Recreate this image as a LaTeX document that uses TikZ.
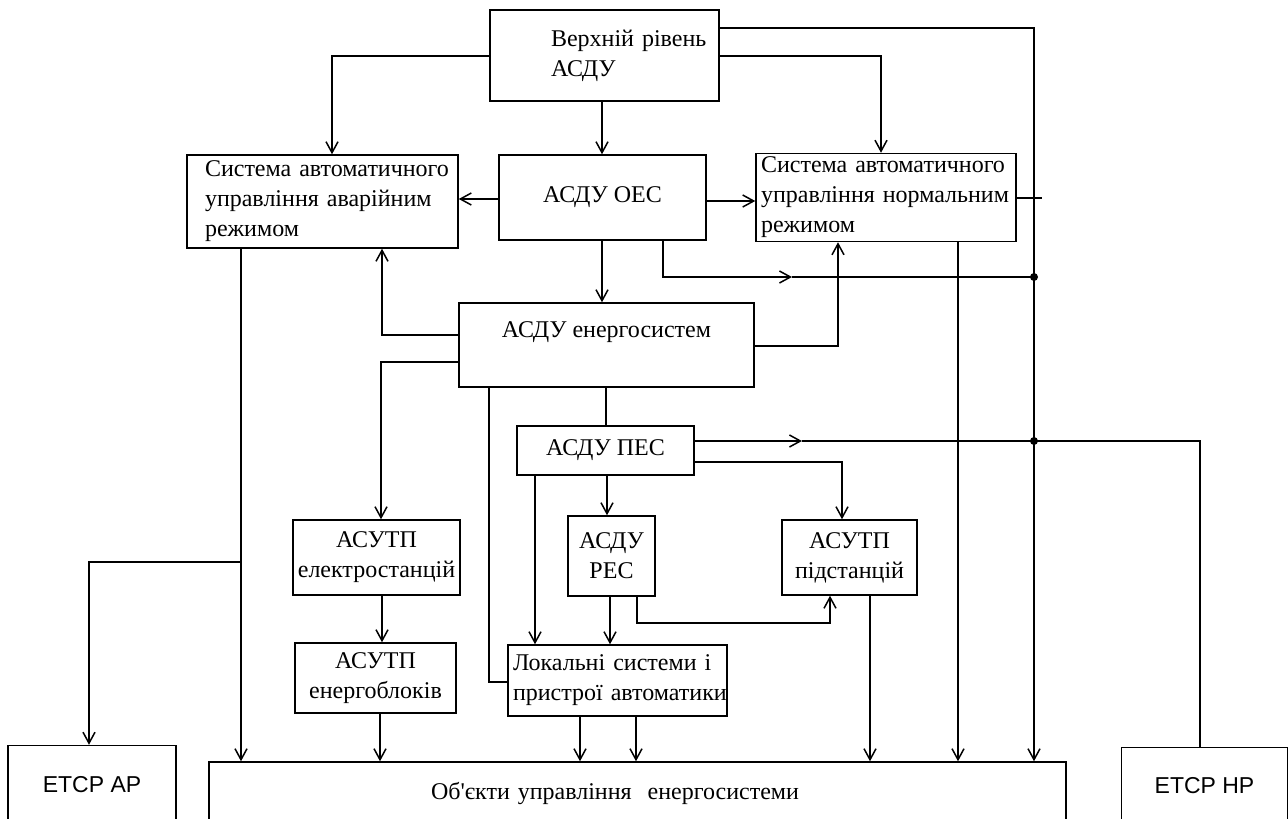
\documentclass[tikz,border=0pt]{standalone}
\usepackage{fontspec}
\setmainfont{Liberation Serif}
\newfontfamily\arialfont{Liberation Sans}
\usetikzlibrary{arrows.meta}

\begin{document}
\begin{tikzpicture}[x=1pt, y=-1pt, line width=1.5pt, >={Straight Barb[length=11pt,width=12pt]},
    box/.style={rectangle, draw, inner sep=0pt, font=\fontsize{24}{30}\selectfont},
    etbox/.style={rectangle, draw, inner sep=0pt, font=\arialfont\fontsize{23}{28}\selectfont}]
        \useasboundingbox (0,0) rectangle (1288,819);

          \node[box, minimum height=91pt, text width=107pt, inner xsep=61pt, align=left] (top) at (604.5,55.5) {Верхній~рівень\\АСДУ};
          \node[box, minimum width=207pt, minimum height=85pt] (oes) [node distance=142pt, below of=top, xshift=-2pt] {АСДУ ОЕС};
          \node[box, minimum height=93pt, text width=235pt, inner xsep=18pt, align=left] (avar) [node distance=280pt, left of=oes, yshift=-4pt] {Система~автоматичного\\управління~аварійним\\режимом};
          \node[box, minimum height=88pt, text width=250pt, inner xsep=5pt, align=left] (norm) [node distance=283.5pt, right of=oes] {Система~автоматичного\\управління~нормальним\\режимом};
          \node[box, minimum width=295pt, minimum height=84pt, align=center] (ener) [node distance=147.5pt, below of=oes, xshift=4pt] {АСДУ енергосистем\\\mbox{}};
          \node[box, minimum width=177pt, minimum height=49pt] (pes) [node distance=105.5pt, below of=ener, xshift=-1pt] {АСДУ ПЕС};
          \node[box, minimum width=87pt, minimum height=80pt, align=center] (res) [node distance=105.5pt, below of=pes, xshift=6pt] {АСДУ\\РЕС};
          \node[box, minimum width=167pt, minimum height=75pt, align=center] (el) [node distance=235pt, left of=res, yshift=-1.5pt] {АСУТП\\електростанцій};
          \node[box, minimum width=135pt, minimum height=75pt, align=center] (pidst) [node distance=238pt, right of=res, yshift=-1.5pt] {АСУТП\\підстанцій};
          \node[box, minimum width=161pt, minimum height=70pt, align=center] (blok) [node distance=120.5pt, below of=el, xshift=-1pt] {АСУТП\\енергоблоків};
          \node[box, minimum height=71pt, text width=209pt, inner xsep=5pt, align=left] (lok) [node distance=124.5pt, below of=res, xshift=6pt] {Локальні~системи~і\\пристрої~автоматики};
          \node[box, minimum height=62pt, text width=413pt, inner xsep=222pt, align=left] (obj) at (637.5,793) {Об\textquotesingle єкти~управління~~енергосистеми};
          \node[etbox, minimum width=168pt, minimum height=79pt] (etap) at (92,785) {ЕТСР АР};
          \node[etbox, minimum width=166pt, minimum height=77pt] (etnp) at (1204.5,786) {ЕТСР НР};

          \coordinate (j1) at (1034,277);
          \coordinate (j2) at (1034,441);
          \coordinate (j3) at (241,562);
          \coordinate (m1) at (792,277);
          \coordinate (m2) at (802,441);
          \coordinate (s1) at (1042,198);

          % from the top level
          \draw[->] (top.west |- 0,56) -| (332,0 |- avar.north);
          \draw[->] (602,0 |- top.south) -- (602,0 |- oes.north);
          \draw[->] (top.east |- 0,56) -| (881,0 |- norm.north);
          \draw[->] (top.east |- 0,28) -| (1034,0 |- obj.north);
          \fill (j1) circle (4pt);
          \fill (j2) circle (4pt);

          % ASDU OES
          \draw[->] (oes.west |- 0,199) -- (avar.east |- 0,199);
          \draw[->] (oes.east |- 0,201) -- (norm.west |- 0,201);
          \draw[->] (602,0 |- oes.south) -- (602,0 |- ener.north);
          \draw[->] (663,0 |- oes.south) |- (m1);
          \draw (m1) -- (j1);
          \draw (norm.east |- s1) -- (s1);

          % emergency control
          \draw[->] (241,0 |- avar.south) -- (241,0 |- obj.north);
          \draw[->] (j3) -| (89,0 |- etap.north);

          % ASDU of the power systems
          \draw[->] (ener.west |- 0,335) -| (382,0 |- avar.south);
          \draw[->] (ener.west |- 0,362) -| (381,0 |- el.north);
          \draw[->] (ener.east |- 0,346) -| (838,0 |- norm.south);
          \draw (489,0 |- ener.south) |- (lok.west |- 0,682);
          \draw (606,0 |- ener.south) -- (606,0 |- pes.north);

          % ASDU PES
          \draw[->] (pes.east |- m2) -- (m2);
          \draw (m2) -- (j2) -| (1200,0 |- etnp.north);
          \draw[->] (pes.east |- 0,462) -| (842,0 |- pidst.north);
          \draw[->] (535,0 |- pes.south) -- (535,0 |- lok.north);
          \draw[->] (607,0 |- pes.south) -- (607,0 |- res.north);

          % lower level
          \draw[->] (610,0 |- res.south) -- (610,0 |- lok.north);
          \draw[->] (637,0 |- res.south) |- (830,623) -- (830,0 |- pidst.south);
          \draw[->] (382,0 |- el.south) -- (382,0 |- blok.north);
          \draw[->] (380,0 |- blok.south) -- (380,0 |- obj.north);
          \draw[->] (580,0 |- lok.south) -- (580,0 |- obj.north);
          \draw[->] (636,0 |- lok.south) -- (636,0 |- obj.north);
          \draw[->] (870,0 |- pidst.south) -- (870,0 |- obj.north);
          \draw[->] (958,0 |- norm.south) -- (958,0 |- obj.north);

\end{tikzpicture}
\end{document}
